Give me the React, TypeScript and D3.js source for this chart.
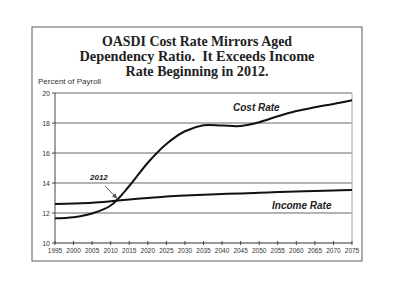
import React from "react";
import * as d3 from "d3";

const years = [1995, 2000, 2005, 2010, 2015, 2020, 2025, 2030, 2035, 2040, 2045, 2050, 2055, 2060, 2065, 2070, 2075];
const costRate = [11.65, 11.72, 11.97, 12.5, 13.8, 15.35, 16.6, 17.45, 17.85, 17.83, 17.8, 18.05, 18.45, 18.8, 19.05, 19.27, 19.52];
const incomeRate = [12.6, 12.63, 12.68, 12.78, 12.9, 13.0, 13.1, 13.17, 13.22, 13.27, 13.3, 13.35, 13.4, 13.44, 13.47, 13.5, 13.53];
const yTicks = [10, 12, 14, 16, 18, 20];
const xTicks = years;
const titleLines = ["OASDI Cost Rate Mirrors Aged", "Dependency Ratio.\u00a0 It Exceeds Income", "Rate Beginning in 2012."];
const titleWidths = [190, 235, 143];
const crossYear = 2012;

export default function App() {
  const W = 400, H = 307;
  const left = 55, right = 352, top = 93, bottom = 243;
  const x = d3.scaleLinear().domain([1995, 2075]).range([left, right]);
  const y = d3.scaleLinear().domain([10, 20]).range([bottom, top]);
  const line = d3.line<number>().x((_, i) => x(years[i])).y((d) => y(d)).curve(d3.curveCatmullRom.alpha(0.5));
  const incAt = (yr: number) => {
    const i = d3.bisectLeft(years, yr);
    const t = (yr - years[i - 1]) / (years[i] - years[i - 1]);
    return incomeRate[i - 1] + t * (incomeRate[i] - incomeRate[i - 1]);
  };
  const cx = x(crossYear), cy = y(incAt(crossYear));
  return (
    <svg width={W} height={H} style={{ position: "absolute", left: 0, top: 0, background: "#fff" }}>
      <defs>
        <marker id="ah" viewBox="0 0 10 10" refX="9" refY="5" markerWidth="6" markerHeight="6" orient="auto">
          <path d="M0,1 L10,5 L0,9 z" fill="#555" />
        </marker>
      </defs>
      <rect x={32} y={27} width={330} height={234} fill="none" stroke="#777" strokeWidth={1.2} />
      {titleLines.map((t, i) => (
        <text key={i} x={197 - titleWidths[i] / 2} y={46 + i * 15} textLength={titleWidths[i]} lengthAdjust="spacingAndGlyphs" fontFamily="'Liberation Serif', 'DejaVu Serif', serif" fontWeight="bold" fontSize={14.5} fill="#222">{t}</text>
      ))}
      <text x={38} y={84} fontFamily="'Liberation Sans', Arial, sans-serif" fontSize={8} fill="#333">Percent of Payroll</text>
      {yTicks.filter((v) => v > 10).map((v) => (
        <line key={v} x1={left} x2={right} y1={y(v)} y2={y(v)} stroke="#9a9a9a" strokeWidth={1.3} />
      ))}
      <line x1={right} x2={right} y1={top} y2={bottom} stroke="#aaa" strokeWidth={1} />
      <line x1={left} x2={left} y1={top} y2={bottom} stroke="#444" strokeWidth={1} />
      <line x1={left} x2={right} y1={bottom} y2={bottom} stroke="#333" strokeWidth={1} />
      {yTicks.map((v) => (
        <g key={v}>
          <line x1={left - 3} x2={left} y1={y(v)} y2={y(v)} stroke="#444" />
          <text x={left - 5} y={y(v) + 2.5} textAnchor="end" fontFamily="'Liberation Sans', Arial, sans-serif" fontSize={7} fill="#333">{v}</text>
        </g>
      ))}
      {xTicks.map((v) => (
        <g key={v}>
          <line x1={x(v)} x2={x(v)} y1={bottom - 2} y2={bottom + 2} stroke="#444" />
          <text x={x(v)} y={bottom + 10} textAnchor="middle" fontFamily="'Liberation Sans', Arial, sans-serif" fontSize={6.5} fill="#333">{v}</text>
        </g>
      ))}
      <path d={line(incomeRate) || ""} fill="none" stroke="#111" strokeWidth={2} />
      <path d={line(costRate) || ""} fill="none" stroke="#111" strokeWidth={2} />
      <text x={90} y={180} fontFamily="'Liberation Sans', Arial, sans-serif" fontWeight="bold" fontStyle="italic" fontSize={8} fill="#222">2012</text>
      <line x1={105} y1={186} x2={cx - 1} y2={cy - 2} stroke="#555" strokeWidth={1} markerEnd="url(#ah)" />
      <text x={233} y={111} fontFamily="'Liberation Sans', Arial, sans-serif" fontWeight="bold" fontStyle="italic" fontSize={10} fill="#222">Cost Rate</text>
      <text x={272} y={209} fontFamily="'Liberation Sans', Arial, sans-serif" fontWeight="bold" fontStyle="italic" fontSize={10} fill="#222">Income Rate</text>
    </svg>
  );
}
